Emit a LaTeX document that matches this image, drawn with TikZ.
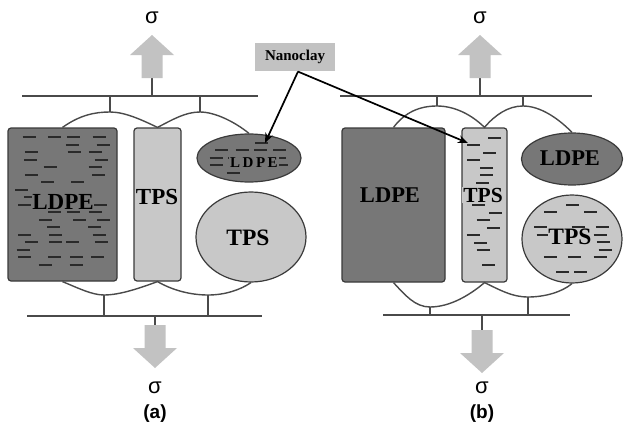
\documentclass[tikz,border=0pt]{standalone}
\usepackage{fontspec}
\setmainfont{Liberation Serif}
\setsansfont{Liberation Sans}
\usetikzlibrary{arrows.meta, shapes.geometric}
\definecolor{cdark}{HTML}{777777}
\definecolor{clight}{HTML}{C8C8C8}
\definecolor{cline}{HTML}{4A4A4A}
\definecolor{cedge}{HTML}{3A3A3A}
\definecolor{cclay}{HTML}{2A2A2A}
\definecolor{carrow}{HTML}{C2C2C2}
\newcommand\fs[1]{\fontsize{#1}{#1}\selectfont}
% clay platelets in rows: seed, cx, cy, half width, half height, oval (0/1), fill rate
\newcommand\clayfill[7]{%
  \pgfmathsetseed{#1}%
  \pgfmathtruncatemacro\nrow{floor(2*(#5)/7.5)}%
  \foreach \r in {1,...,\nrow} {
    \pgfmathsetmacro\dy{-(#5)+7.5*\r-3.75}
    \pgfmathsetmacro\hw{#6==1 ? (#4)*sqrt(max(0,1-(\dy/(#5))^2)) : (#4)}
    \pgfmathtruncatemacro\nslot{floor(2*\hw/20)}
    \ifnum\nslot>0
      \pgfmathsetmacro\sw{2*\hw/\nslot}
      \foreach \s in {1,...,\nslot} {
        \pgfmathsetmacro\keep{rnd<#7 ? 1 : 0}
        \pgfmathsetmacro\dx{-\hw+(\s-1)*\sw+rnd*(\sw-13)}
        \ifdim\keep pt>0.5pt \draw[clay] (#2+\dx,#3+\dy) -- ++(13,0); \fi
      }
    \fi
  }}
\tikzset{
  every picture/.style={line width=1.2pt},
  phase/.style={draw=cedge, fill=#1, rounded corners=3pt, inner sep=0pt},
  blob/.style={draw=cedge, fill=#1, ellipse, inner sep=0pt},
  tag/.style={font=\bfseries, inner sep=0.8pt},
  wire/.style={draw=cline, line width=1.4pt},
  clay/.style={draw=cclay, line width=1.9pt},
  clayarrow/.style={-{Stealth[length=10pt, width=8pt]}, draw=black, line width=1.7pt},
  sig/.style={font=\sffamily\fs{22}},
  panel/.style={font=\sffamily\bfseries\fs{19}},
  load/.pic={\fill[carrow] (-10.5,0) -- (-10.5,-23) -- (-22,-23) -- (0,-43) -- (22,-23) -- (10.5,-23) -- (10.5,0) -- cycle;},
}
\begin{document}
\begin{tikzpicture}[x=1pt, y=-1pt]
  \useasboundingbox (0,0) rectangle (625,431);
  % ---------- (a) ----------
  \node[phase=cdark, minimum width=109pt, minimum height=153pt] (ldpeA) at (62.5,204.5) {};
  \node[phase=clight, minimum width=47pt, minimum height=153pt] (tpsA) at (157.5,204.5) {};
  \node[blob=cdark, minimum width=104pt, minimum height=48pt] (ldpeEA) at (249,158) {};
  \node[blob=clight, minimum width=110pt, minimum height=90pt] (tpsEA) at (251,237) {};
  \clayfill{29}{62.5}{204.5}{49}{71}{0}{0.58}
  \clayfill{7}{249}{158}{44}{19}{1}{0.7}
  \node[tag, fill=cdark, font=\bfseries\fs{23}] (ldpeAt) at (63,202) {LDPE};
  \node[tag, font=\bfseries\fs{23}] (tpsAt) at (157,197) {TPS};
  \node[tag, fill=cdark, font=\bfseries\fs{15}] (ldpeEAt) at (254,163) {L\,D\,P\,E};
  \node[tag, font=\bfseries\fs{23.5}] (tpsEAt) at (248,238) {TPS};
  % frame and springs
  \coordinate (tA) at (22,96);
  \coordinate (tA') at (258,96);
  \coordinate (bA) at (27,316);
  \coordinate (bA') at (262,316);
  \coordinate (hA1) at (110,112);
  \coordinate (hA2) at (200,112);
  \coordinate (hA3) at (104,295);
  \coordinate (hA4) at (208,295);
  \draw[wire] (tA) -- (tA');
  \draw[wire] (bA) -- (bA');
  \draw[wire] (ldpeA.north) .. controls (80,115) and (95,112) .. (hA1)
    .. controls (125,112) and (142,120) .. (tpsA.north)
    .. controls (172,120) and (185,112) .. (hA2)
    .. controls (215,112) and (235,122) .. (ldpeEA.north);
  \draw[wire] (ldpeA.south) .. controls (78,288) and (92,295) .. (hA3)
    .. controls (120,295) and (140,288) .. (tpsA.south)
    .. controls (172,290) and (190,295) .. (hA4)
    .. controls (225,295) and (240,290) .. (tpsEA.south);
  \foreach \h in {hA1,hA2} \draw[wire] (\h) -- (\h |- tA);
  \foreach \h in {hA3,hA4} \draw[wire] (\h) -- (\h |- bA);
  % loads
  \coordinate (upA) at (152,78);
  \coordinate (dnA) at (155,325);
  \draw[wire] (upA) -- (upA |- tA);
  \draw[wire] (dnA) -- (dnA |- bA);
  \pic at (upA) {load};
  \pic[yscale=-1] at (dnA) {load};
  \node[sig] (sigA1) at (152,18) {σ};
  \node[sig] (sigA2) at (155,388) {σ};
  \node[panel] (capA) at (155,414) {(a)};
  % ---------- (b) ----------
  \node[phase=cdark, minimum width=103pt, minimum height=154pt] (ldpeB) at (393.5,205) {};
  \node[phase=clight, minimum width=45pt, minimum height=154pt] (tpsB) at (484.5,205) {};
  \node[blob=cdark, minimum width=101pt, minimum height=52pt] (ldpeEB) at (572,159) {};
  \node[blob=clight, minimum width=100pt, minimum height=88pt] (tpsEB) at (572,239) {};
  \clayfill{5}{484.5}{205}{18.5}{71}{0}{0.8}
  \clayfill{13}{572}{239}{42}{38}{1}{0.65}
  \node[tag, font=\bfseries\fs{22.5}] (ldpeBt) at (390,195) {LDPE};
  \node[tag, fill=clight, font=\bfseries\fs{21.5}] (tpsBt) at (483,195) {TPS};
  \node[tag, font=\bfseries\fs{22.5}] (ldpeEBt) at (570,158) {LDPE};
  \node[tag, fill=clight, font=\bfseries\fs{23.5}] (tpsEBt) at (570,237) {TPS};
  % frame and springs
  \coordinate (tB) at (340,96);
  \coordinate (tB') at (592,96);
  \coordinate (bB) at (383,315);
  \coordinate (bB') at (570,315);
  \coordinate (hB1) at (437,106);
  \coordinate (hB2) at (523,106);
  \coordinate (hB3) at (430,307);
  \coordinate (hB4) at (528,297);
  \draw[wire] (tB) -- (tB');
  \draw[wire] (bB) -- (bB');
  \draw[wire] (ldpeB.north) .. controls (405,112) and (420,106) .. (hB1)
    .. controls (455,106) and (472,115) .. (tpsB.north)
    .. controls (495,115) and (508,106) .. (hB2)
    .. controls (540,106) and (558,118) .. (ldpeEB.north);
  \draw[wire] (ldpeB.south) .. controls (405,295) and (415,307) .. (hB3)
    .. controls (450,307) and (470,295) .. (tpsB.south)
    .. controls (500,290) and (512,297) .. (hB4)
    .. controls (545,297) and (562,292) .. (tpsEB.south);
  \foreach \h in {hB1,hB2} \draw[wire] (\h) -- (\h |- tB);
  \foreach \h in {hB3,hB4} \draw[wire] (\h) -- (\h |- bB);
  % loads
  \coordinate (upB) at (480,78);
  \coordinate (dnB) at (482,330);
  \draw[wire] (upB) -- (upB |- tB);
  \draw[wire] (dnB) -- (dnB |- bB);
  \pic at (upB) {load};
  \pic[yscale=-1] at (dnB) {load};
  \node[sig] (sigB1) at (480,18) {σ};
  \node[sig] (sigB2) at (482,388) {σ};
  \node[panel] (capB) at (482,414) {(b)};
  % ---------- nanoclay ----------
  \node[fill=carrow, font=\bfseries\fs{15}, minimum width=80pt, minimum height=28pt, inner sep=0pt] (nano) at (295,57) {Nanoclay};
  \coordinate (clayA) at (265,143);
  \coordinate (clayB) at (468,143);
  \draw[clayarrow] ([xshift=3pt]nano.south) -- (clayA);
  \draw[clayarrow] ([xshift=3pt]nano.south) -- (clayB);
\end{tikzpicture}
\end{document}
